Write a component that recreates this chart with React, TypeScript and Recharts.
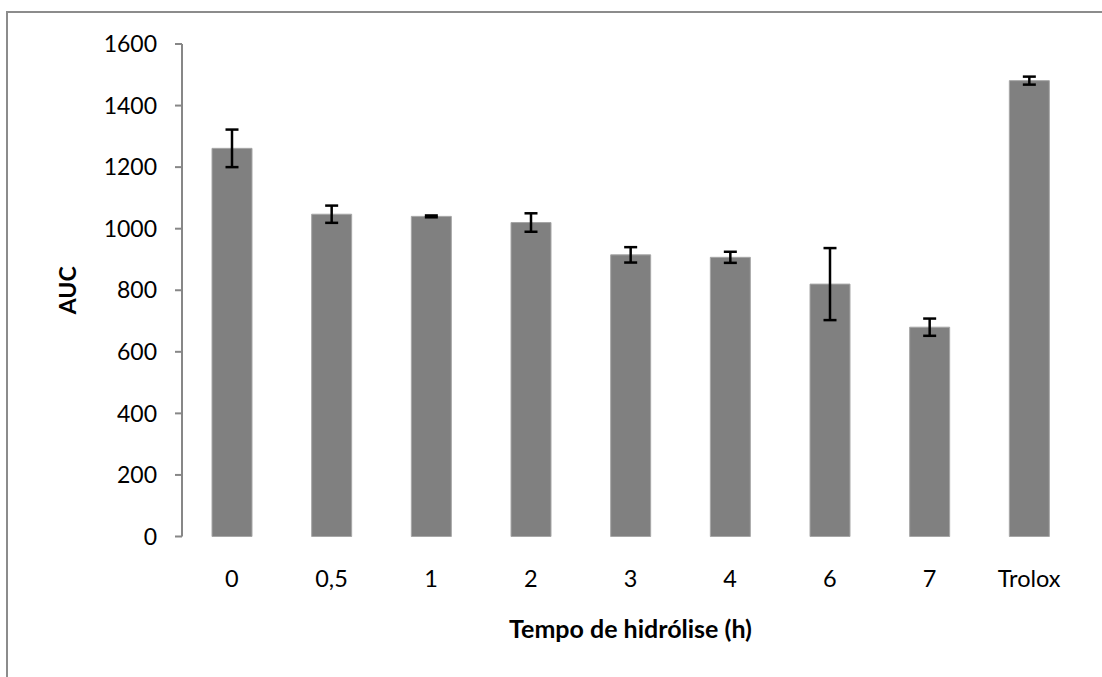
import React from 'react';
import { BarChart, Bar, XAxis, YAxis, ErrorBar } from 'recharts';

const categories = ['0', '0,5', '1', '2', '3', '4', '6', '7', 'Trolox'];
const aucValues = [1261, 1047, 1040, 1020, 915, 907, 820, 680, 1481];
const aucErrors = [61, 28, 3, 30, 25, 18, 117, 28, 13];
const yTicks = [0, 200, 400, 600, 800, 1000, 1200, 1400, 1600];
const boundaryTicks = [0, 1, 2, 3, 4, 5, 6, 7, 8, 9];

const data = categories.map((c, i) => ({ cat: c, value: aucValues[i], err: aucErrors[i] }));

const FONT = 'Lato, "Open Sans", sans-serif';
const AXIS = '#878787';

export default function App() {
  return (
    <div style={{ position: 'fixed', left: 0, top: 0, width: 1102, height: 677, overflow: 'hidden', background: '#fff' }}>
      <div
        style={{
          position: 'absolute',
          left: 6,
          top: 11,
          width: 1300,
          height: 900,
          borderTop: '2px solid #8c8c8c',
          borderLeft: '2.5px solid #8c8c8c',
        }}
      />
      <div style={{ position: 'absolute', left: 0, top: 0 }}>
        <BarChart
          width={1102}
          height={677}
          data={data}
          margin={{ top: 44, right: 23, bottom: 0, left: 0 }}
          barCategoryGap={0}
        >
          <XAxis
            xAxisId={0}
            type="number"
            domain={[0, 9]}
            ticks={boundaryTicks}
            allowDataOverflow
            height={0}
            tickSize={7}
            tickFormatter={() => ''}
            axisLine={{ stroke: AXIS, strokeWidth: 2 }}
            tickLine={{ stroke: AXIS, strokeWidth: 2 }}
          />
          <XAxis
            xAxisId="cat"
            dataKey="cat"
            type="category"
            height={140.5}
            axisLine={false}
            tickLine={false}
            tickSize={7}
            tickMargin={27}
            interval={0}
            tick={{ fill: '#000', fontSize: 23.5, fontFamily: FONT }}
            label={{
              value: 'Tempo de hidrólise (h)',
              position: 'insideTop',
              offset: 84,
              fill: '#000',
              fontSize: 25,
              fontWeight: 'bold',
              fontFamily: FONT,
            }}
          />
          <YAxis
            width={182}
            domain={[0, 1600]}
            ticks={yTicks}
            tickSize={7}
            tickMargin={18}
            axisLine={{ stroke: AXIS, strokeWidth: 2 }}
            tickLine={{ stroke: AXIS, strokeWidth: 2 }}
            tick={{ fill: '#000', fontSize: 23, fontFamily: FONT }}
            label={{
              value: 'AUC',
              angle: -90,
              position: 'center',
              dx: -23,
              fill: '#000',
              fontSize: 23,
              fontWeight: 'bold',
              fontFamily: FONT,
            }}
          />
          <Bar
            xAxisId="cat"
            dataKey="value"
            fill="#808080"
            stroke="#a6a6a6"
            strokeWidth={1}
            barSize={40}
            isAnimationActive={false}
          >
            <ErrorBar dataKey="err" width={6.5} strokeWidth={2.5} stroke="#000" direction="y" isAnimationActive={false} />
          </Bar>
        </BarChart>
      </div>
    </div>
  );
}
